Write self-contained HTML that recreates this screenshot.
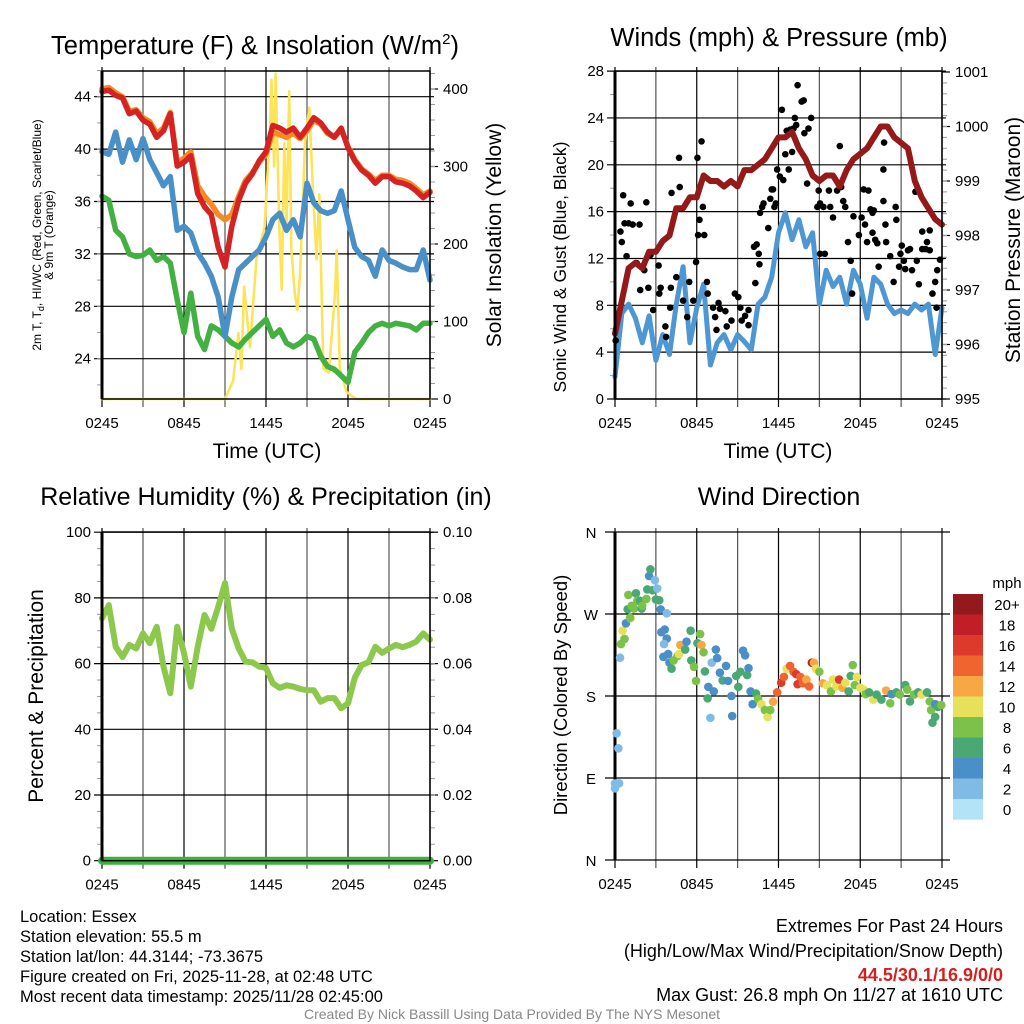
<!DOCTYPE html>
<html><head><meta charset="utf-8"><style>
html,body{margin:0;padding:0;background:#fff;width:1024px;height:1024px;overflow:hidden}
svg{display:block;font-family:"Liberation Sans",Arial,sans-serif}
</style></head><body>
<svg id="chart" width="1024" height="1024" viewBox="0 0 1024 1024" xmlns="http://www.w3.org/2000/svg"></svg>
<script>
// ---------- DATA (30-min steps from 0245 UTC) ----------
const timeLabels = ["0245","0845","1445","2045","0245"];
const tempRed = [44.4,44.5,44.1,43.9,42.7,42.9,42.2,41.9,40.9,41.4,42.7,38.7,39.0,39.5,36.6,35.6,35.0,32.5,31.0,34.1,36.1,37.4,38.1,39.1,39.8,41.8,41.6,41.3,41.6,40.9,41.6,42.4,42.0,41.3,40.9,41.6,40.1,39.1,38.4,38.0,37.4,37.9,37.9,37.5,37.4,37.2,36.8,36.3,36.7];
const tempOrange = [44.6,44.7,44.3,44.0,42.9,43.0,42.4,42.1,41.2,41.6,42.8,39.0,39.3,39.8,37.2,36.4,35.8,35.0,34.6,35.0,36.4,37.6,38.2,39.0,39.6,41.3,41.1,40.9,41.2,40.8,41.4,42.2,41.9,41.2,40.9,41.5,40.2,39.2,38.5,38.1,37.6,38.0,38.0,37.7,37.6,37.4,37.0,36.5,36.8];
const tempBlue = [39.8,39.6,41.3,39.0,40.7,39.2,40.8,39.2,38.2,37.2,37.9,33.8,34.1,33.6,32.1,31.3,30.3,28.7,25.7,28.7,30.8,31.3,31.8,32.3,33.3,34.6,35.1,33.8,34.6,33.3,37.4,35.9,35.3,35.1,35.3,36.8,34.6,32.5,31.8,31.5,30.3,32.3,31.5,31.3,31.0,30.8,30.8,32.3,30.0];
const tempGreen = [36.4,36.1,33.8,33.3,32.0,31.8,31.9,32.3,31.5,31.8,31.3,28.5,26.0,29.0,25.7,24.7,26.5,26.2,25.7,25.2,24.9,25.5,26.0,26.5,27.0,25.7,26.2,25.2,24.9,25.2,25.7,25.5,24.2,23.4,23.2,22.7,22.2,24.5,25.2,26.0,26.5,26.7,26.5,26.7,26.6,26.5,26.2,26.7,26.7];
const solarHours = [0,9.0,9.6,9.98,10.2,10.4,10.83,11.3,11.9,12.3,12.4,12.6,12.7,12.97,13.15,13.34,13.5,13.7,13.85,14.1,14.3,14.5,14.85,15.17,15.45,15.7,15.9,16.2,16.6,17.05,17.17,17.4,17.9,18.6,24];
const solarVals = [0,0,24,85,39,145,67,180,222,351,412,300,420,222,141,330,222,397,195,137,115,165,330,376,264,180,264,39,34,137,192,39,9,0,0];
const windSpeed = [1.9,7.3,8.1,6.9,4.8,7.1,3.3,5.5,3.8,8.1,11.3,4.8,7.8,9.8,2.9,4.8,5.5,4.2,5.5,4.9,4.2,8.1,8.7,10.4,14.2,15.9,13.6,15.3,13.0,14.2,8.1,11.0,9.6,10.4,8.1,11.0,9.8,6.9,10.4,9.8,8.1,7.3,7.6,7.3,8.1,7.6,8.1,3.8,7.8];
const pressure = [996.2,996.8,997.4,997.5,997.4,997.7,997.7,997.9,998.0,998.5,998.5,998.7,998.7,999.1,999.0,999.0,998.9,999.0,998.9,999.2,999.2,999.3,999.4,999.6,999.8,999.8,999.9,999.6,999.4,999.1,999.0,999.1,999.1,998.9,999.2,999.4,999.5,999.6,999.8,1000.0,1000.0,999.8,999.7,999.6,999.0,998.7,998.5,998.3,998.2];
const gustHours = [0.05,0.4,0.5,0.6,0.7,1.0,1.15,1.3,0.85,1.6,1.8,1.85,2.3,2.15,2.6,2.8,2.45,3.2,3.25,3.35,3.7,3.75,4.05,4.1,4.15,4.7,4.75,4.5,5.0,5.3,5.45,5.75,5.95,6.05,6.35,6.2,6.45,6.1,6.55,6.75,6.8,7.2,7.6,7.35,7.7,7.45,8.1,8.2,8.55,8.8,9.05,9.2,9.3,9.55,9.8,9.8,10.2,10.4,10.3,10.6,10.55,10.65,10.8,10.9,11.25,11.4,11.5,11.6,11.7,11.8,11.9,12.1,12.25,12.35,12.5,12.6,12.75,12.85,13.0,13.1,13.2,13.3,13.4,13.7,13.85,13.9,14.1,14.2,14.4,14.85,14.95,15.05,15.05,15.3,15.4,15.7,15.8,16.0,16.3,16.5,16.6,16.75,16.9,17.1,17.3,17.4,17.5,17.9,18.1,18.25,18.35,18.5,18.6,18.75,18.9,19.0,18.9,19.1,19.25,19.35,19.7,19.7,19.75,19.85,19.9,20.2,20.45,20.6,20.65,20.85,20.95,21.05,21.2,21.3,21.5,21.65,21.8,22.05,22.15,22.3,22.55,22.55,22.8,22.9,23.1,23.1,23.3,23.5,23.65,23.85,23.6];
const gustVals = [5.0,14.3,13.4,17.4,15.0,15.0,16.7,14.9,12.2,11.6,14.9,9.3,16.8,11.0,12.3,7.6,9.5,11.4,9.0,9.5,6.2,5.3,7.8,9.5,17.6,20.6,18.1,10.4,8.4,7.0,10.0,8.4,11.7,20.6,22.0,15.3,16.4,14.0,14.0,10.0,9.0,7.8,8.2,7.0,7.7,5.9,7.5,6.2,6.7,9.0,8.7,7.8,6.7,7.1,6.3,7.6,13.0,13.2,9.9,11.5,12.4,15.9,16.4,16.7,14.6,17.1,17.9,17.9,16.4,16.7,19.6,19.0,24.7,18.7,20.9,22.9,19.6,23.0,21.1,23.1,24.0,23.4,26.8,25.4,25.5,22.7,18.4,23.1,24.0,16.4,17.8,16.7,12.4,16.4,12.4,17.8,16.4,15.5,17.8,21.6,18.1,16.9,16.4,13.4,11.8,9.0,15.6,14.0,15.5,17.9,14.9,13.4,17.8,16.2,15.9,16.1,14.2,13.6,13.3,11.3,16.9,19.6,21.9,14.9,13.4,12.2,10.0,16.4,15.3,11.3,12.4,13.1,11.8,11.1,12.7,12.8,11.0,17.7,11.8,9.8,14.3,12.8,12.8,13.4,14.4,12.7,9.0,10.0,11.0,11.9,7.8];
const rh = [73.8,77.8,65.1,62.0,65.7,64.6,69.2,66.2,71.2,59.1,51.0,71.2,63.2,53.0,65.1,74.8,70.6,77.3,84.5,70.6,64.6,60.6,60.4,59.1,58.7,54.0,52.6,53.4,53.0,52.3,51.9,51.9,48.4,49.5,49.5,46.4,47.9,55.7,59.6,60.4,65.1,63.3,64.6,65.7,65.0,65.7,66.7,69.2,67.3];
const precip = [0,0,0,0,0,0,0,0,0,0,0,0,0,0,0,0,0,0,0,0,0,0,0,0,0,0,0,0,0,0,0,0,0,0,0,0,0,0,0,0,0,0,0,0,0,0,0,0,0];
const dirHours = [0,0.3,0,0.25,0.12,0.37,0.44,0.7,0.56,0.8,1.15,1.1,0.93,0.98,1.22,1.4,1.54,1.64,1.84,1.96,2.0,2.3,2.37,2.5,2.6,2.76,2.93,3.1,3.0,3.25,3.35,3.8,3.4,3.65,3.8,3.6,3.55,3.9,4.0,4.3,4.15,4.6,4.7,4.8,5.15,5.25,5.55,5.6,5.8,5.95,6.05,6.25,6.35,6.5,6.6,6.8,6.85,7.1,7.0,7.25,7.4,7.5,7.7,7.9,8.15,8.3,8.55,8.6,8.9,9.05,9.2,9.4,9.55,9.7,9.8,9.95,10.1,10.35,10.5,10.75,11.0,11.2,11.4,11.6,11.9,12.2,12.4,12.6,12.85,13.1,13.3,13.4,13.6,13.8,14.05,14.25,14.45,14.6,14.75,15.0,15.25,15.55,15.85,16.0,16.25,16.45,16.7,16.9,17.15,17.3,17.45,17.6,17.75,18.0,18.25,18.4,18.65,18.95,19.2,19.55,19.9,20.2,20.3,20.65,20.9,21.3,21.45,21.65,21.95,22.25,22.5,22.9,23.1,23.2,23.3,23.5,23.5,23.7,23.95];
const dirDeg = [78.7,84.2,84,122.6,139,222,237,242.6,251.7,259.8,265.3,266,275.2,290.9,279,276,292.7,284.5,284.5,276,279,286.5,297,311.7,319,296,307,298,286,285,275,270.7,250,253,243,237,223,226,216.6,219,210,224,226,236,231,239.6,251.7,219,212,196.5,238,248,236,228,207,177.4,190,216.6,156,185,231,221.6,205.6,197,213,196.6,180,158,202,190,206.6,229.7,224.6,203,210.6,185,171,182.7,176.8,171,164.6,157,164.6,173.8,184,194.6,201,210,213,206.6,204,193,201,194,198,190.5,216.6,216.6,210,206.6,194,192,185,198,190.5,198,189,194.6,185,202,214,192,201,189,187,182,184,176,181.6,176,186,172,182,184,181.6,192,187,174,181.6,184,181.6,184,174,164.6,150.7,157,171,168,170];
const dirSpeed = [2,2,2,2,2,2,8,8,10,4,10,8,6,8,8,8,6,8,6,6,8,8,6,4,6,6,2,2,6,6,4,2,4,4,4,2,4,4,4,8,6,8,10,12,6,4,6,6,8,8,6,8,12,8,6,6,4,2,2,4,4,4,4,6,4,4,4,4,6,6,6,4,4,6,4,4,4,6,8,10,8,10,8,12,14,16,14,10,14,14,16,16,14,14,12,14,18,12,10,8,12,10,8,10,10,16,12,10,6,6,8,8,10,10,10,8,6,10,6,6,12,8,4,6,8,6,8,6,8,6,10,6,8,8,6,6,4,6,8];
const cbLabels = ["20+","18","16","14","12","10","8","6","4","2","0"];
const cbColors = ["#921a1c","#c01f25","#dd3a2b","#ee6530","#f7a844","#e6e05a","#7cc24a","#4aa874","#4a8fc8","#7fbbe4","#b3e3f7"];

// ---------- helpers ----------
const NS="http://www.w3.org/2000/svg";
const svg=document.getElementById('chart');
function el(tag,attrs,parent){const e=document.createElementNS(NS,tag);for(const k in attrs)e.setAttribute(k,attrs[k]);(parent||svg).appendChild(e);return e;}
function txt(s,x,y,size,anchor,parent,extra){const t=el('text',Object.assign({x:x,y:y,'font-size':size,'text-anchor':anchor||'start',fill:'#000'},extra||{}),parent);t.textContent=s;return t;}
function rtxt(s,x,y,size,parent){const t=el('text',{x:0,y:0,'font-size':size,'text-anchor':'middle',transform:`translate(${x},${y}) rotate(-90)`,fill:'#000'},parent);t.textContent=s;return t;}

function panel(g,x0,x1,y0,y1,yTicks,yScale,yLabels,rTicks,rScale,rLabels,minorL,minorR){
  for(let h=0;h<=24;h+=3){const x=x0+h/24*(x1-x0);
    const l=el('line',{x1:x,y1:y0-4,x2:x,y2:y1+8,stroke:h%6==0?'#000':'#555','stroke-width':1.2},g);
    }
  yTicks.forEach((v,i)=>{const y=yScale(v);
    const l=el('line',{x1:x0-8,y1:y,x2:x1+4,y2:y,stroke:'#000','stroke-width':1.2},g);
    
    const t=txt(yLabels[i],x0-11,y+5,15,'end',g);});
  minorL.forEach(v=>{const y=yScale(v);el('line',{x1:x0-5,y1:y,x2:x0,y2:y,stroke:'#999','stroke-width':1},g);});
  if(rTicks){rTicks.forEach((v,i)=>{const y=rScale(v);el('line',{x1:x1,y1:y,x2:x1+8,y2:y,stroke:'#000','stroke-width':1.2},g);
    const t=txt(rLabels[i],x1+13,y+5,15,'start',g);});
    minorR.forEach(v=>{const y=rScale(v);el('line',{x1:x1,y1:y,x2:x1+5,y2:y,stroke:'#999','stroke-width':1},g);});}
  timeLabels.forEach((s,i)=>{const x=x0+i/4*(x1-x0);const t=txt(s,x,y1+29,15,'middle',g);});
}
function frame(g,x0,x1,y0,y1){const r=el('rect',{x:x0,y:y0,width:x1-x0,height:y1-y0,fill:'none',stroke:'#000','stroke-width':1.5},g);
  el('line',{x1:x0,y1:y0,x2:x0,y2:y1,stroke:'#000','stroke-width':3},g);}
function line(g,xs,ys,color,w,name){const d=xs.map((x,i)=>(i?'L':'M')+x.toFixed(1)+','+ys[i].toFixed(1)).join('');
  const p=el('path',{d:d,fill:'none',stroke:color,'stroke-width':w,'stroke-linejoin':'round','stroke-linecap':'round'},g);
  return p;}
const range=(a,b,s)=>{const r=[];for(let v=a;v<=b+1e-9;v+=s)r.push(+v.toFixed(4));return r;};

// ---------- Panel 1: Temperature ----------
{const X0=102,X1=430,Y0=71,Y1=399;
 const g=el('g',{});
 const xs=h=>X0+h/24*(X1-X0);const yT=v=>96.7+(44-v)*13.1;const yS=v=>399-v*0.775;
 panel(g,X0,X1,Y0,Y1,[24,28,32,36,40,44],yT,["24","28","32","36","40","44"],[0,100,200,300,400],yS,["0","100","200","300","400"],range(22,46,2),range(20,420,20));
 const xi=tempRed.map((_,i)=>xs(i*0.5));
 line(g,solarHours.map(xs),solarVals.map(yS),'#fce45a',2.6,'solar-insolation-line');
 line(g,xi,tempGreen.map(yT),'#42b142',5.5,'dewpoint-line');
 line(g,xi,tempBlue.map(yT),'#4a90c8',5.5,'heat-index-windchill-line');
 line(g,xi,tempOrange.map(yT),'#f58a25',5.5,'9m-temperature-line');
 line(g,xi,tempRed.map(yT),'#d42323',5.5,'2m-temperature-line');
 frame(g,X0,X1,Y0,Y1);
 const t=txt('Temperature (F) & Insolation (W/m',255,54,25.5,'middle',g);
 const ts=el('tspan',{dy:-10,'font-size':15},t);ts.textContent='2';const ts2=el('tspan',{dy:10},t);ts2.textContent=')';
 const a=el('text',{x:0,y:0,'font-size':12,'text-anchor':'middle',transform:'translate(41,235) rotate(-90)'},g);
 a.innerHTML='2m T, T<tspan dy="3" font-size="9">d</tspan><tspan dy="-3">, HI/WC (Red, Green, Scarlet/Blue)</tspan>';
 const a2=rtxt('& 9m T (Orange)',53,235,12,g);
 const r=rtxt('Solar Insolation (Yellow)',501,235,21,g);
 const xt=txt('Time (UTC)',267,458,21,'middle',g);}

// ---------- Panel 2: Winds ----------
{const X0=615,X1=942,Y0=71,Y1=399;
 const g=el('g',{});
 const xs=h=>X0+h/24*(X1-X0);const yW=v=>399-v*11.71;const yP=p=>72+(1001-p)*54.5;
 panel(g,X0,X1,Y0,Y1,[0,4,8,12,16,20,24,28],yW,["0","4","8","12","16","20","24","28"],[995,996,997,998,999,1000,1001],yP,["995","996","997","998","999","1000","1001"],range(2,26,4),range(995.2,1000.8,0.2));
 const xi=windSpeed.map((_,i)=>xs(i*0.5));
 line(g,xi,windSpeed.map(yW),'#4f97d2',5,'sonic-wind-line');
 gustHours.forEach((h,i)=>{const c=el('circle',{cx:xs(h),cy:yW(gustVals[i]),r:3.3,fill:'#000'},g);});
 line(g,xi,pressure.map(yP),'#941a1a',6,'pressure-line');
 frame(g,X0,X1,Y0,Y1);
 const t=txt('Winds (mph) & Pressure (mb)',779,46,25.5,'middle',g);
 const a=rtxt('Sonic Wind & Gust (Blue, Black)',566,267,17.5,g);
 const r=rtxt('Station Pressure (Maroon)',1020,240,21,g);
 const xt=txt('Time (UTC)',778,458,21,'middle',g);}

// ---------- Panel 3: RH ----------
{const X0=102,X1=430,Y0=532,Y1=860.7;
 const g=el('g',{});
 const xs=h=>X0+h/24*(X1-X0);const yR=v=>860.7-v*3.285;const yPr=v=>860.7-v*3285;
 panel(g,X0,X1,Y0,Y1,[0,20,40,60,80,100],yR,["0","20","40","60","80","100"],[0,0.02,0.04,0.06,0.08,0.1],yPr,["0.00","0.02","0.04","0.06","0.08","0.10"],range(10,90,20).concat(range(5,95,10)),range(0.005,0.095,0.005));
 const xi=rh.map((_,i)=>xs(i*0.5));
 line(g,xi,rh.map(yR),'#8cc84b',6,'relative-humidity-line');
 line(g,xi,precip.map(yPr),'#3cb43c',8,'precipitation-line');
 frame(g,X0,X1,Y0,Y1);
 const t=txt('Relative Humidity (%) & Precipitation (in)',266,505,25,'middle',g);
 const a=rtxt('Percent & Precipitation',43,696,21,g);}

// ---------- Panel 4: Wind direction ----------
{const X0=615,X1=942,Y0=532,Y1=860;
 const g=el('g',{});
 const xs=h=>X0+h/24*(X1-X0);const yD=d=>860-d*82/90;
 for(let h=0;h<=24;h+=3){const x=xs(h);el('line',{x1:x,y1:Y0-4,x2:x,y2:Y1+8,stroke:h%6==0?'#000':'#555','stroke-width':1.2},g);}
 const dl=["N","E","S","W","N"];
 [0,90,180,270,360].forEach((d,i)=>{const y=yD(d);el('line',{x1:X0-10,y1:y,x2:X1+8,y2:y,stroke:'#000','stroke-width':1.2},g);
   const t=txt(dl[i],591,y+6,15,'middle',g);});
 timeLabels.forEach((s,i)=>{const t=txt(s,X0+i/4*(X1-X0),889,15,'middle',g);});
 el('line',{x1:X0,y1:Y0,x2:X0,y2:Y1,stroke:'#000','stroke-width':3},g);
 dirHours.forEach((h,i)=>{const k=Math.min(10,Math.round(dirSpeed[i]/2));const c=el('circle',{cx:xs(h),cy:yD(dirDeg[i]),r:4.3,fill:cbColors[10-k]},g);
   });
 const t=txt('Wind Direction',779,505,25,'middle',g);
 const a=rtxt('Direction (Colored By Speed)',567,695,18.5,g);
 const cb=el('g',{},g);
 cbColors.forEach((c,i)=>{const r=el('rect',{x:953,y:594+i*20.5,width:30,height:20.7,fill:c},cb);
   const l=txt(cbLabels[i],1007,594+i*20.5+16,15,'middle',cb);});
 const m=txt('mph',1007,588,15,'middle',cb);}

// ---------- Footer text ----------
{const g=el('g',{});
 const L=["Location: Essex","Station elevation: 55.5 m","Station lat/lon: 44.3144; -73.3675","Figure created on Fri, 2025-11-28, at 02:48 UTC","Most recent data timestamp: 2025/11/28 02:45:00"];
 L.forEach((s,i)=>{const t=txt(s,20,922+i*20,16.5,'start',g);});
 const R=[["Extremes For Past 24 Hours",932,'#000','normal'],["(High/Low/Max Wind/Precipitation/Snow Depth)",957,'#000','normal'],["44.5/30.1/16.9/0/0",981,'#d42020','bold'],["Max Gust: 26.8 mph On 11/27 at 1610 UTC",1001,'#000','normal']];
 R.forEach(r=>{const t=txt(r[0],1003,r[1],18,'end',g,{fill:r[2],'font-weight':r[3]});});
 const c=txt('Created By Nick Bassill Using Data Provided By The NYS Mesonet',512,1019,14,'middle',g,{fill:'#888'});}
</script>
</body></html>
